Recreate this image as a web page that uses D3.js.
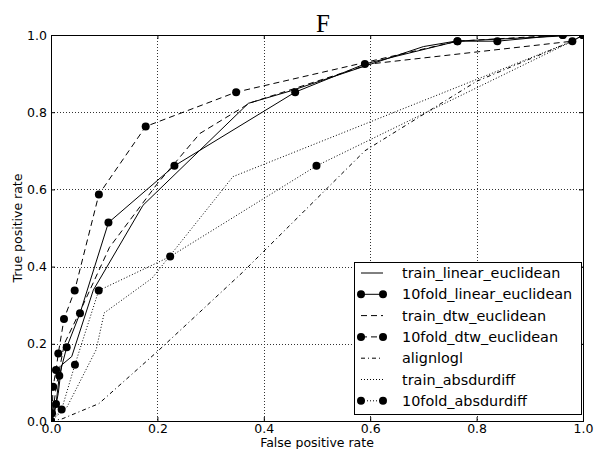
<!DOCTYPE html>
<html>
<head>
<meta charset="utf-8">
<script src="https://cdn.jsdelivr.net/npm/d3@7"></script>
<style>
  body { margin: 0; background: #fff; }
  svg { display: block; }
  .tick text { font-family: "DejaVu Sans", sans-serif; font-size: 12.5px; fill: #000; }
</style>
</head>
<body>
<div id="chart"></div>
<script>
// ROC points, [false positive rate, true positive rate]
var trainLinearEuclidean = [[0, 0], [0.0075, 0.028], [0.0137, 0.072], [0.02, 0.145], [0.039, 0.167], [0.0795, 0.339], [0.173, 0.559], [0.371, 0.823], [0.45, 0.855], [0.7, 0.97], [0.76, 0.984], [1, 1]];
var tenfoldLinearEuclidean = [[0, 0], [0.0094, 0.044], [0.0156, 0.117], [0.0295, 0.191], [0.0545, 0.279], [0.108, 0.514], [0.232, 0.661], [0.459, 0.852], [0.59, 0.925], [0.764, 0.984], [0.839, 0.984], [0.962, 1], [1, 1]];
var trainDtwEuclidean = [[0, 0], [0.004, 0.03], [0.01, 0.09], [0.025, 0.2], [0.06, 0.3], [0.11, 0.45], [0.2, 0.615], [0.28, 0.745], [0.374, 0.824], [0.6, 0.925], [0.98, 0.984], [1, 1]];
var tenfoldDtwEuclidean = [[0, 0], [0.002, 0.02], [0.004, 0.089], [0.0094, 0.132], [0.0137, 0.175], [0.0244, 0.264], [0.0445, 0.338], [0.09, 0.587], [0.178, 0.763], [0.348, 0.852], [0.764, 0.984], [0.962, 1], [1, 1]];
var alignlogl = [[0, 0], [0.02, 0.005], [0.09, 0.045], [0.2, 0.18], [0.36, 0.385], [0.59, 0.7], [0.8, 0.88], [0.98, 0.984], [1, 1]];
var trainAbsdurdiff = [[0, 0], [0.03, 0.036], [0.085, 0.185], [0.1, 0.28], [0.19, 0.37], [0.342, 0.633], [0.98, 0.984], [1, 1]];
var tenfoldAbsdurdiff = [[0, 0], [0.02, 0.03], [0.045, 0.146], [0.0897, 0.338], [0.224, 0.426], [0.499, 0.661], [0.98, 0.984], [1, 1]];

var seriesNames = ["train_linear_euclidean", "10fold_linear_euclidean", "train_dtw_euclidean", "10fold_dtw_euclidean", "alignlogl", "train_absdurdiff", "10fold_absdurdiff"];
var seriesData = [trainLinearEuclidean, tenfoldLinearEuclidean, trainDtwEuclidean, tenfoldDtwEuclidean, alignlogl, trainAbsdurdiff, tenfoldAbsdurdiff];
var dashes = ["none", "none", "6,4", "6,4", "4,3,1,3", "1,2", "1,2"];
var hasMarkers = [false, true, false, true, false, false, true];
var tickValues = [0, 0.2, 0.4, 0.6, 0.8, 1.0];

var svgW = 598, svgH = 449;
var margin = { top: 35, right: 15, bottom: 28, left: 51 };
var w = svgW - margin.left - margin.right,
    h = svgH - margin.top - margin.bottom;

var svg = d3.select("#chart").append("svg").attr("width", svgW).attr("height", svgH);

var xScale = d3.scaleLinear().domain([0, 1]).range([margin.left, margin.left + w]);
var yScale = d3.scaleLinear().domain([0, 1]).range([margin.top + h, margin.top]);

svg.append("clipPath").attr("id", "plotClip").append("rect")
  .attr("x", margin.left).attr("y", margin.top).attr("width", w).attr("height", h);

// grid
var grid = svg.append("g").attr("class", "grid");
grid.selectAll(".vgrid").data(tickValues.slice(1, -1)).enter().append("line")
  .attr("x1", function (d) { return Math.round(xScale(d)) + 0.5; })
  .attr("x2", function (d) { return Math.round(xScale(d)) + 0.5; })
  .attr("y1", margin.top).attr("y2", margin.top + h)
  .attr("stroke", "#333").attr("stroke-width", 1).attr("stroke-dasharray", "1,2");
grid.selectAll(".hgrid").data(tickValues.slice(1, -1)).enter().append("line")
  .attr("y1", function (d) { return Math.round(yScale(d)) + 0.5; })
  .attr("y2", function (d) { return Math.round(yScale(d)) + 0.5; })
  .attr("x1", margin.left).attr("x2", margin.left + w)
  .attr("stroke", "#333").attr("stroke-width", 1).attr("stroke-dasharray", "1,2");

// curves
var line = d3.line().x(function (d) { return xScale(d[0]); }).y(function (d) { return yScale(d[1]); });
var plot = svg.append("g").attr("clip-path", "url(#plotClip)");

seriesData.forEach(function (pts, i) {
  plot.append("path").datum(pts)
    .attr("d", line)
    .attr("fill", "none").attr("stroke", "#000").attr("stroke-width", 1)
    .attr("stroke-dasharray", dashes[i] === "none" ? null : dashes[i]);
  if (hasMarkers[i]) {
    plot.selectAll(".m" + i).data(pts).enter().append("circle")
      .attr("cx", function (d) { return xScale(d[0]); })
      .attr("cy", function (d) { return yScale(d[1]); })
      .attr("r", 4).attr("fill", "#000");
  }
});

// axes, ticks pointing inward on all sides
var fmt = d3.format(".1f");
svg.append("g").attr("transform", "translate(0," + (margin.top + h) + ")")
  .call(d3.axisBottom(xScale).tickValues(tickValues).tickFormat(fmt).tickSize(-4).tickPadding(3));
svg.append("g").attr("transform", "translate(" + margin.left + ",0)")
  .call(d3.axisLeft(yScale).tickValues(tickValues).tickFormat(fmt).tickSize(-4).tickPadding(4));
svg.append("g").attr("transform", "translate(0," + margin.top + ")")
  .call(d3.axisTop(xScale).tickValues(tickValues).tickFormat("").tickSize(-4));
svg.append("g").attr("transform", "translate(" + (margin.left + w) + ",0)")
  .call(d3.axisRight(yScale).tickValues(tickValues).tickFormat("").tickSize(-4));
svg.selectAll(".domain").remove();
svg.selectAll(".tick line").attr("stroke", "#000");

svg.append("rect")
  .attr("x", margin.left + 0.5).attr("y", margin.top + 0.5)
  .attr("width", w).attr("height", h)
  .attr("fill", "none").attr("stroke", "#000").attr("stroke-width", 1);

// title and labels
svg.append("text").text("F")
  .attr("x", margin.left + w / 2 + 6).attr("y", 32)
  .attr("text-anchor", "middle")
  .attr("font-family", "Liberation Serif, serif").attr("font-size", "25px");
svg.append("text").text("False positive rate")
  .attr("x", margin.left + w / 2).attr("y", 447)
  .attr("text-anchor", "middle")
  .attr("font-family", "DejaVu Sans, sans-serif").attr("font-size", "12.5px");
svg.append("text").text("True positive rate")
  .attr("transform", "translate(22," + (margin.top + h / 2) + ") rotate(-90)")
  .attr("text-anchor", "middle")
  .attr("font-family", "DejaVu Sans, sans-serif").attr("font-size", "12.5px");

// legend
var legX = 354, legY = 262, legW = 227, legH = 152, rowH = 21.3;
var legend = svg.append("g").attr("id", "legend");
legend.append("rect")
  .attr("x", legX + 0.5).attr("y", legY + 0.5).attr("width", legW).attr("height", legH)
  .attr("fill", "#fff").attr("stroke", "#000").attr("stroke-width", 1);

var rows = legend.selectAll(".row").data(seriesNames).enter().append("g")
  .attr("transform", function (d, i) { return "translate(0," + (legY + 11 + i * rowH) + ")"; });

rows.append("line")
  .attr("x1", legX + 7).attr("x2", legX + 29).attr("y1", 0).attr("y2", 0)
  .attr("stroke", "#000").attr("stroke-width", 1)
  .attr("stroke-dasharray", function (d, i) { return dashes[i] === "none" ? null : dashes[i]; });
rows.each(function (d, i) {
  if (!hasMarkers[i]) return;
  d3.select(this).selectAll("circle").data([legX + 7, legX + 29]).enter().append("circle")
    .attr("cx", function (c) { return c; }).attr("cy", 0).attr("r", 4).attr("fill", "#000");
});
rows.append("text").text(function (d) { return d; })
  .attr("x", legX + 48).attr("y", 0).attr("dy", "0.35em")
  .attr("font-family", "DejaVu Sans, sans-serif").attr("font-size", "14.4px");
</script>
</body>
</html>
